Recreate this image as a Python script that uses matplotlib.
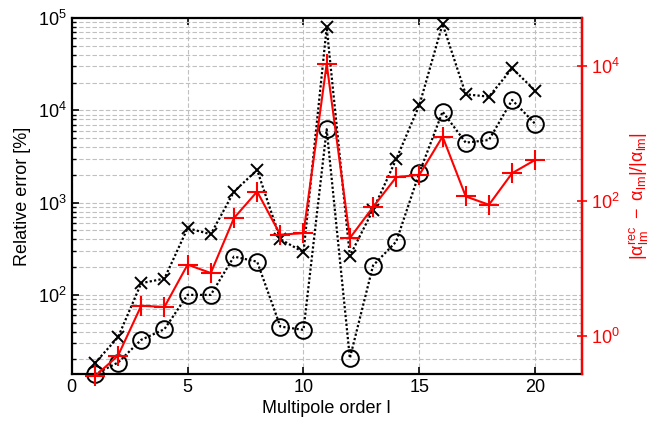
import matplotlib
matplotlib.use("Agg")
import matplotlib.pyplot as plt
from matplotlib.ticker import LogLocator, NullLocator, FixedLocator, NullFormatter

plt.rcParams['font.family'] = ['Liberation Sans', 'DejaVu Sans']
plt.rcParams['mathtext.fontset'] = 'custom'
plt.rcParams['mathtext.rm'] = 'Liberation Sans'
plt.rcParams['mathtext.it'] = 'Liberation Sans'
plt.rcParams['mathtext.default'] = 'regular'

orders = list(range(1, 21))
err_cross = [18.2, 34.8, 134, 150, 528, 454, 1315, 2259, 401, 290,
             79300, 264, 833, 2950, 11430, 86100, 14900, 14060, 28500, 16300]
err_circle = [13.8, 18.5, 32.6, 42.5, 100, 100, 260, 229, 45.4, 41.8,
              6230, 20.6, 208, 378, 2111, 9670, 4460, 4770, 12940, 7110]
coef_err = [0.25, 0.506, 2.78, 2.66, 11.3, 8.49, 55.4, 137, 31.4, 33.2,
            10700, 28, 80.7, 224, 243, 897, 116, 87.3, 257, 405]

fig = plt.figure(figsize=(6.65, 4.32), dpi=100)
ax = fig.add_axes([0.1078, 0.1343, 0.7669, 0.824])

dot = (0, (1, 1))
ax.plot(orders, err_cross, color='black', linestyle=dot, linewidth=1.6,
        marker='x', markersize=9, markeredgewidth=1.4, clip_on=False, zorder=3)
ax.plot(orders, err_circle, color='black', linestyle=dot, linewidth=1.6,
        marker='o', markersize=12, markerfacecolor='none', markeredgewidth=1.4,
        clip_on=False, zorder=3)

ax.set_yscale('log')
ax.set_xlim(0, 22)
ax.set_ylim(13.9, 1e5)
ax.set_xticks([0, 5, 10, 15, 20])
ax.yaxis.set_major_locator(LogLocator(base=10, numticks=10))
ax.yaxis.set_minor_locator(LogLocator(base=10, subs=range(2, 10), numticks=20))
ax.yaxis.set_minor_formatter(NullFormatter())
ax.grid(True, which='major', axis='both', color='#c0c0c0', linestyle=(0, (4, 2)), linewidth=0.8)
ax.grid(True, which='minor', axis='y', color='#c0c0c0', linestyle=(0, (4, 2)), linewidth=0.8)
ax.tick_params(axis='both', which='both', direction='in', labelsize=13)
ax.tick_params(axis='x', top=True, length=5, width=1.2)
ax.tick_params(axis='y', which='major', length=5, width=1.2, right=False)
ax.tick_params(axis='y', which='minor', length=3, width=1.0, right=False)
for s in ax.spines.values():
    s.set_linewidth(1.6)
ax.set_xlabel('Multipole order l', fontsize=13, labelpad=3)
ax.set_ylabel('Relative error [%]', fontsize=13, labelpad=5)

ax2 = ax.twinx()
ax2.plot(orders, coef_err, color='red', linestyle='-', linewidth=1.5,
         marker='+', markersize=14, markeredgewidth=1.5, clip_on=False, zorder=4)
ax2.set_yscale('log')
ax2.set_ylim(0.27, 10 ** 4.711)
ax2.yaxis.set_major_locator(FixedLocator([1, 100, 10000]))
ax2.yaxis.set_minor_locator(NullLocator())
ax2.tick_params(axis='y', direction='inout', colors='red', labelsize=13, length=7, width=1.2)
ax2.spines['right'].set_color('red')
ax2.spines['right'].set_linewidth(1.6)
ax2.spines['left'].set_visible(False)
ax2.spines['top'].set_visible(False)
ax2.spines['bottom'].set_visible(False)
ax2.set_ylabel(r'$|\alpha_{lm}^{rec}\ -\ \alpha_{lm}|/|\alpha_{lm}|$', color='red', fontsize=13, labelpad=5)

fig.savefig('out.png', dpi=100)
